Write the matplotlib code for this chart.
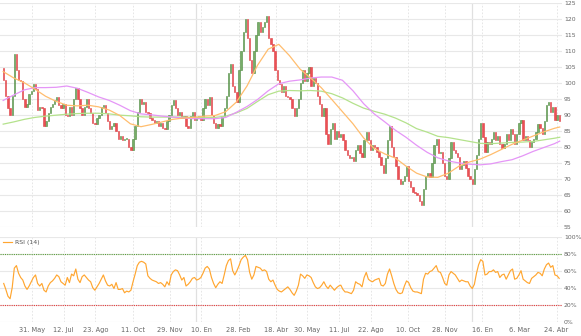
import numpy as np
import pandas as pd
import matplotlib
matplotlib.use('Agg')
import matplotlib.pyplot as plt

# trading days shown on the ordinal axis
dates = pd.bdate_range('2021-04-22', '2023-04-27')

# one candle per two trading days
first_open = 104.5
closes = [
    101, 96, 92, 90, 96, 109, 104, 101, 100.5, 95,
    92.5, 93.5, 96.5, 97.5, 99.5, 98, 91.5, 92.5, 92, 86.5,
    88, 90.5, 92.5, 93.5, 94.5, 95.5, 93, 92, 93.5, 90,
    89.5, 92.5, 90, 95, 98.5, 95, 92, 90, 92.5, 95,
    92, 90.5, 87.5, 87, 89, 90, 92.5, 93, 90.5, 88,
    85.5, 86.5, 87.5, 85, 82.5, 83.5, 82, 82.5, 82.5, 80,
    79, 82.5, 86.5, 91, 95, 93.5, 94, 91, 90.5, 89,
    88.5, 87.5, 88, 86.5, 87.5, 86, 85.5, 88, 90, 93,
    94.5, 92, 90, 91, 89, 89.5, 86.5, 86, 89.5, 91,
    88.5, 89, 89.5, 88.5, 92, 95, 93, 95.5, 90, 87.5,
    86, 87, 86.5, 89.5, 92, 96, 103, 106, 99, 97,
    94, 104, 110, 116, 120, 114, 107, 103, 110, 115,
    119, 116, 117.5, 119, 121, 114, 112, 110, 104, 101,
    99.5, 97, 99, 96, 95.5, 95, 92, 89.5, 92, 95,
    100, 104, 100.5, 103, 105, 99, 101.5, 100, 96, 93.5,
    89.5, 92, 84, 81, 85.5, 87.5, 82.5, 85, 83, 84,
    82, 79, 77.5, 76.5, 77, 75.5, 79, 80.5, 78, 77,
    82, 84.5, 82, 79, 80.5, 80, 78.5, 77, 74.5, 72,
    76.5, 82, 86.5, 80, 77, 74, 70, 68.5, 69.5, 71,
    74, 69.5, 67.5, 66, 65.5, 65, 63, 62, 67, 71,
    72, 70.5, 75, 80.5, 82.5, 78, 78.5, 75, 71, 70,
    76.5, 81.5, 79, 78, 77, 73, 74.5, 75.5, 73.5, 71,
    70, 68.5, 73, 77.5, 82.5, 87.5, 83, 78.5, 81.5, 81,
    82.5, 84.5, 82, 83.5, 81, 79.5, 81, 84, 82, 85.5,
    84, 81, 84, 87.5, 88.5, 82, 83.5, 82, 80, 81.5,
    82.5, 84.5, 87, 86, 84, 88, 93, 94, 91, 92.5,
    88.5, 90, 88,
]

# moving averages, one value every ten trading days
ma_days = list(range(0, 521, 10)) + [525]
ma_orange = [
    103.5, 101.5, 100, 98, 95.8, 94.2, 93, 92.8, 93, 92.5,
    91.5, 89.8, 87.2, 86.3, 87, 87.8, 88.6, 89, 89.2, 89.6,
    89.8, 91, 94, 99, 105.5, 110.5, 112, 108.5, 104.3, 101.5,
    98.5, 94.8, 91, 87.2, 82.8, 79.5, 77.8, 76.5, 74, 71.8,
    70.6, 70.5, 71.8, 74, 75.3, 76.2, 77.6, 79.2, 80.8, 82.1,
    83.4, 84.7, 85.8, 86.2,
]
ma_green = [
    87.1, 87.8, 88.6, 89.2, 89.6, 89.9, 90.2, 90.4, 90.5, 90.5,
    90.3, 89.9, 89.7, 89.4, 89.3, 89.3, 89.3, 89.3, 89.2, 89.1,
    89.2, 89.6, 90.6, 92, 94.2, 96.3, 97.4, 97.6, 97.5, 97.6,
    97.4, 96.6, 95.3, 93.6, 92.1, 91.1, 90.2, 89, 87.5, 85.7,
    84.6, 83.3, 82.9, 82.3, 81.7, 81.1, 81, 81.2, 81.4, 81.5,
    81.7, 82.2, 82.7, 83,
]
ma_purple = [
    94.5, 96.2, 97.8, 98.5, 98.5, 98.6, 99, 98.3, 97, 95.6,
    94.5, 93, 91.3, 90.3, 90, 89.6, 89.3, 89, 88.8, 88.8,
    88.8, 89.2, 90.8, 92.6, 94.8, 97.5, 99.7, 100.5, 100.9, 101.5,
    101.8, 101.8, 100.8, 97.5, 93.5, 90.3, 87.8, 85.2, 83, 80.5,
    78.3, 76.6, 75.6, 75, 74.6, 74.4, 74.7, 75.4, 76, 77.2,
    78.6, 79.8, 81, 81.8,
]

# RSI (14), one value per candle
rsi = [
    45, 38, 30, 27, 40, 63, 66, 57, 52, 49,
    42, 38, 42, 47, 52, 55, 45, 42, 45, 37,
    35, 42, 46, 48, 51, 55, 53, 47, 45, 43,
    52, 46, 56, 54, 62, 50, 46, 53, 55, 52,
    49, 47, 40, 37, 41, 45, 50, 55, 48, 43,
    42, 44, 39, 46, 38, 38, 39, 34, 36, 35,
    37, 47, 56, 66, 70, 71, 70, 68, 54, 51,
    49, 48, 47, 45, 46, 44, 41, 47, 43, 55,
    59, 61, 60, 55, 49, 52, 42, 44, 47, 51,
    52, 49, 50, 52, 57, 63, 65, 62, 52, 45,
    40, 44, 47, 45, 55, 66, 72, 74, 60, 55,
    60, 66, 73, 76, 78, 73, 58, 50, 55, 65,
    64, 63, 60, 61, 59, 50, 47, 49, 43, 38,
    36, 35, 37, 39, 41, 38, 34, 31, 36, 43,
    56, 54, 51, 55, 54, 52, 46, 41, 39, 40,
    43, 47, 42, 39, 43, 40, 37, 40, 42, 43,
    38, 35, 35, 34, 33, 37, 47, 45, 44, 41,
    52, 58, 50, 48, 47, 49, 50, 51, 43, 42,
    45, 56, 62, 54, 45, 38, 34, 33, 34, 42,
    48, 46, 40, 36, 35, 35, 34, 33, 50, 57,
    56, 59, 60, 63, 66, 59, 58, 52, 45, 43,
    55, 59, 57, 55, 51, 47, 49, 48, 47, 47,
    42, 39, 44, 57, 67, 73, 71, 55, 56, 59,
    59, 61, 58, 59, 52, 55, 56, 50, 55, 60,
    62, 50, 51, 55, 60, 50, 48, 46, 45, 51,
    53, 55, 58, 57, 54, 62, 67, 69, 64, 66,
    55, 54, 51,
]

tick_dates = ['2021-05-31', '2021-07-12', '2021-08-23', '2021-10-11', '2021-11-29',
              '2022-01-10', '2022-02-28', '2022-04-18', '2022-05-30', '2022-07-11',
              '2022-08-22', '2022-10-10', '2022-11-28', '2023-01-16', '2023-03-06',
              '2023-04-24']
tick_labels = ['31. May', '12. Jul', '23. Ago', '11. Oct', '29. Nov', '10. En', '28. Feb',
               '18. Abr', '30. May', '11. Jul', '22. Ago', '10. Oct', '28. Nov', '16. En',
               '6. Mar', '24. Abr']
year_starts = ['2022-01-03', '2023-01-02']

GRID = '#e8e8e8'
LABEL = '#666666'

closes = np.array(closes, dtype=float)
opens = np.concatenate([[first_open], closes[:-1]])
cx = np.arange(len(closes)) * 2 + 0.5
up = closes >= opens

tick_pos = [dates.get_loc(pd.Timestamp(d)) for d in tick_dates]
year_pos = [dates.get_loc(pd.Timestamp(d)) for d in year_starts]

fig = plt.figure(figsize=(5.81, 3.36), dpi=100)
ax = fig.add_axes([0, 1 - 227 / 336, 0.967, 224.3 / 336])
ax2 = fig.add_axes([0, 1 - 321.7 / 336, 0.967, 85 / 336])

for a in (ax, ax2):
    a.set_xlim(-3, 527)
    a.set_xticks(tick_pos)
    a.grid(axis='y', color=GRID, lw=0.8)
    a.grid(axis='x', color='#e2e2e2', lw=0.6, ls=(0, (2, 2)))
    for p in year_pos:
        a.axvline(p, color='#e0e0e0', lw=0.9, zorder=0)
    for s in a.spines.values():
        s.set_visible(False)
    a.yaxis.tick_right()
    a.tick_params(axis='y', length=0, pad=1.5, labelsize=4.4, labelcolor=LABEL)
    a.tick_params(axis='x', length=0)
    a.set_axisbelow(True)

# candles
body_lo = np.minimum(opens, closes)
body_h = np.maximum(np.abs(closes - opens), 0.25)
ax.bar(cx[up], body_h[up], bottom=body_lo[up], width=1.25,
       color='#78ad68', edgecolor='#4d8a3f', linewidth=0.4, zorder=3)
ax.bar(cx[~up], body_h[~up], bottom=body_lo[~up], width=1.25,
       color='#ec5055', edgecolor='#dc3e43', linewidth=0.4, zorder=3)

ax.plot(ma_days, ma_green, color='#b4e28c', lw=0.9, zorder=4)
ax.plot(ma_days, ma_purple, color='#e596f7', lw=0.9, zorder=4)
ax.plot(ma_days, ma_orange, color='#ffbd6e', lw=0.9, zorder=4)

ax.set_ylim(55, 125)
ax.set_yticks(np.arange(55, 126, 5))
ax.set_xticklabels([])

# RSI panel
ax2.plot(cx, rsi, color='#ffa630', lw=0.85, label='RSI (14)', zorder=3)
ax2.axhline(80, color='#5a9e3a', lw=0.8, ls=(0, (1, 1)), zorder=2)
ax2.axhline(20, color='#e53b3b', lw=0.8, ls=(0, (1, 1)), zorder=2)
ax2.set_ylim(0, 100)
ax2.set_yticks(np.arange(0, 101, 20))
ax2.set_yticklabels([f'{v}%' for v in range(0, 101, 20)])
ax2.set_xticklabels(tick_labels, fontsize=4.8, color=LABEL)
ax2.tick_params(axis='x', pad=4)
ax2.legend(loc='upper left', frameon=False, fontsize=4.5, handlelength=1.4,
           handletextpad=0.5, borderaxespad=0.1, labelcolor='#555555')

fig.savefig('out.png', dpi=100)
